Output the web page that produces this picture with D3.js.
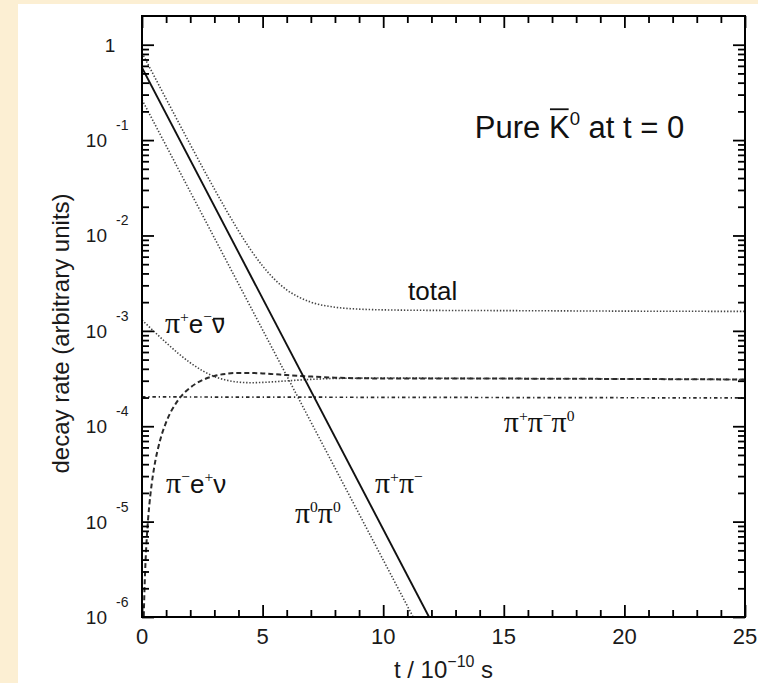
<!DOCTYPE html>
<html>
<head>
<meta charset="utf-8">
<script src="https://cdn.jsdelivr.net/npm/d3@7"></script>
<style>
  html, body { margin: 0; padding: 0; background: #fcefd3; }
  svg { display: block; }
</style>
</head>
<body>
<svg id="chart" width="758" height="683"></svg>
<script>
'use strict';

// ── data (t in 1e-10 s, decay rate in arbitrary units) ─────────────────────
const xTicks = [0, 5, 10, 15, 20, 25];
const yDecades = [-6, -5, -4, -3, -2, -1, 0];

const totalPts = [[0, 0.822], [1, 0.2707], [2, 0.0901], [3, 0.0307], [4, 0.0112],
  [4.5, 0.00711], [5, 0.00479], [5.5, 0.00346], [6, 0.00269], [6.5, 0.00226],
  [7, 0.00200], [8, 0.00177], [9, 0.00169], [10, 0.00166], [12, 0.00164],
  [15, 0.00163], [20, 0.00161], [25, 0.00160]];
const pipiPts = [[0, 0.574], [11.9, 1e-6]];
const pi0pi0Pts = [[0, 0.265], [11.24, 1e-6]];
const semiPlusPts = [[0, 1.30e-3], [0.5, 9.85e-4], [1, 7.52e-4], [1.5, 5.82e-4],
  [2, 4.63e-4], [2.5, 3.83e-4], [3, 3.32e-4], [3.5, 3.04e-4], [4, 2.90e-4],
  [4.5, 2.86e-4], [5, 2.88e-4], [5.5, 2.93e-4], [6, 2.99e-4], [7, 3.10e-4],
  [8, 3.17e-4], [10, 3.20e-4], [15, 3.16e-4], [20, 3.13e-4], [25, 3.09e-4]];
const semiMinusPts = [[0.05, 4.7e-7], [0.075, 1.04e-6], [0.1, 1.82e-6], [0.15, 3.98e-6],
  [0.2, 6.87e-6], [0.3, 1.46e-5], [0.4, 2.46e-5], [0.5, 3.64e-5], [0.75, 7.11e-5],
  [1, 1.10e-4], [1.5, 1.88e-4], [2, 2.54e-4], [2.5, 3.04e-4], [3, 3.37e-4],
  [3.5, 3.55e-4], [4, 3.62e-4], [4.5, 3.62e-4], [5, 3.58e-4], [5.5, 3.51e-4],
  [6, 3.44e-4], [7, 3.32e-4], [8, 3.23e-4], [10, 3.17e-4], [15, 3.16e-4],
  [20, 3.13e-4], [25, 3.09e-4]];
const threePiPts = [[0, 2.03e-4], [25, 1.98e-4]];

// ── layout ──────────────────────────────────────────────────────────────────
const W = 758, H = 683;
const plot = { l: 142, r: 745, t: 16, b: 617 };
const SANS = '"Liberation Sans", Arial, sans-serif';
const SERIF = '"Liberation Serif", "Times New Roman", serif';

const x = d3.scaleLinear().domain([0, 25]).range([plot.l, plot.r]);
const y = d3.scaleLog().domain([1e-6, 2]).range([plot.b, plot.t]);

const svg = d3.select('#chart');

// white panel on beige page
svg.append('rect')
  .attr('x', 18).attr('y', 4)
  .attr('width', W - 18).attr('height', H - 4)
  .attr('fill', '#fff');

svg.append('clipPath').attr('id', 'plotclip')
  .append('rect')
  .attr('x', plot.l).attr('y', plot.t)
  .attr('width', plot.r - plot.l).attr('height', plot.b - plot.t);

// ── curves ──────────────────────────────────────────────────────────────────
const line = d3.line()
  .x(d => x(d[0]))
  .y(d => y(d[1]))
  .curve(d3.curveMonotoneX);

const curves = [
  { pts: totalPts,     color: '#444', width: 1.6, dash: '1.4,1.8' },
  { pts: pi0pi0Pts,    color: '#444', width: 1.6, dash: '1.4,1.8' },
  { pts: semiPlusPts,  color: '#444', width: 1.6, dash: '1.4,1.8' },
  { pts: semiMinusPts, color: '#2a2a2a', width: 2, dash: '5,3' },
  { pts: threePiPts,   color: '#2a2a2a', width: 1.7, dash: '3.5,2.8,1.3,2.8' },
  { pts: pipiPts,      color: '#111', width: 1.9, dash: null },
];

const curveG = svg.append('g').attr('clip-path', 'url(#plotclip)');
curves.forEach(c => {
  curveG.append('path')
    .attr('d', line(c.pts))
    .attr('fill', 'none')
    .attr('stroke', c.color)
    .attr('stroke-width', c.width)
    .attr('stroke-dasharray', c.dash);
});

// ── axes (ticks inward on all four sides) ───────────────────────────────────
const xMinor = d3.range(0, 26).filter(v => v % 5 !== 0);
const yMajor = yDecades.map(k => Math.pow(10, k));
const yMinor = [];
yDecades.forEach(k => {
  for (let j = 2; j <= 9; j++) {
    const v = j * Math.pow(10, k);
    if (v < 2) yMinor.push(v);
  }
});

function tickSet(axis, values, len, tx, ty) {
  svg.append('g')
    .attr('transform', `translate(${tx},${ty})`)
    .call(axis.tickValues(values).tickSize(-len).tickFormat(''))
    .call(g => g.select('.domain').remove())
    .call(g => g.selectAll('line').attr('stroke', '#000').attr('stroke-width', 1.8));
}

tickSet(d3.axisBottom(x), xTicks, 12, 0, plot.b);
tickSet(d3.axisBottom(x), xMinor, 7, 0, plot.b);
tickSet(d3.axisTop(x), xTicks, 12, 0, plot.t);
tickSet(d3.axisTop(x), xMinor, 7, 0, plot.t);
tickSet(d3.axisLeft(y), yMajor, 12, plot.l, 0);
tickSet(d3.axisLeft(y), yMinor, 7, plot.l, 0);
tickSet(d3.axisRight(y), yMajor, 12, plot.r, 0);
tickSet(d3.axisRight(y), yMinor, 7, plot.r, 0);

svg.append('rect')
  .attr('x', plot.l).attr('y', plot.t)
  .attr('width', plot.r - plot.l).attr('height', plot.b - plot.t)
  .attr('fill', 'none')
  .attr('stroke', '#000')
  .attr('stroke-width', 2);

// ── tick labels ─────────────────────────────────────────────────────────────
const labelG = svg.append('g').attr('font-family', SANS).attr('fill', '#1a1a1a');

xTicks.forEach(t => {
  labelG.append('text')
    .attr('x', x(t)).attr('y', 644)
    .attr('text-anchor', 'middle')
    .attr('font-size', 22)
    .text(t);
});

yDecades.forEach(k => {
  const yy = y(Math.pow(10, k));
  if (k === 0) {
    labelG.append('text')
      .attr('x', 110).attr('y', yy + 7)
      .attr('text-anchor', 'middle')
      .attr('font-size', 19)
      .text('1');
  } else {
    labelG.append('text')
      .attr('x', 107).attr('y', yy + 7)
      .attr('text-anchor', 'end')
      .attr('font-size', 19)
      .text('10');
    labelG.append('text')
      .attr('x', 116).attr('y', yy - 10)
      .attr('font-size', 14)
      .text(String(k));
  }
});

// ── axis titles ─────────────────────────────────────────────────────────────
labelG.append('text')
  .attr('transform', `translate(69,${(plot.t + plot.b) / 2 + 17}) rotate(-90)`)
  .attr('text-anchor', 'middle')
  .attr('font-size', 24)
  .text('decay rate (arbitrary units)');

const xTitle = labelG.append('text')
  .attr('x', (plot.l + plot.r) / 2).attr('y', 678)
  .attr('text-anchor', 'middle')
  .attr('font-size', 24);
xTitle.append('tspan').text('t / 10');
xTitle.append('tspan').attr('dy', -11).attr('font-size', 16).text('\u221210');
xTitle.append('tspan').attr('dy', 11).text(' s');

// ── curve annotations ───────────────────────────────────────────────────────
// parts: s = text, f = font family, k = size factor, sup = superscript,
// bar = overline height (em)
function richText(tx, ty, parts, size) {
  const t = svg.append('text')
    .attr('x', tx).attr('y', ty)
    .attr('font-family', SANS)
    .attr('font-size', size)
    .attr('fill', '#111');
  let raised = false;
  const shift = size * 0.42;
  parts.forEach(p => {
    const ts = t.append('tspan').text(p.s);
    if (p.f) ts.attr('font-family', p.f);
    if (p.k) ts.attr('font-size', size * p.k);
    if (p.sup) {
      ts.attr('font-size', size * 0.6);
      if (!raised) { ts.attr('dy', -shift); raised = true; }
    } else if (raised) {
      ts.attr('dy', shift);
      raised = false;
    }
  });
  // overlines
  let idx = 0;
  parts.forEach(p => {
    if (p.bar) {
      const a = t.node().getStartPositionOfChar(idx);
      const b = t.node().getEndPositionOfChar(idx + p.s.length - 1);
      svg.append('line')
        .attr('x1', a.x + 1).attr('x2', b.x - 1)
        .attr('y1', ty - size * p.bar).attr('y2', ty - size * p.bar)
        .attr('stroke', '#111').attr('stroke-width', 1.8);
    }
    idx += p.s.length;
  });
  return t;
}

const PI = { s: '\u03c0', f: SERIF, k: 1.15 };
const sup = s => ({ s, sup: true, f: SERIF });

const annotations = [
  { t: 13.8, v: 0.105, size: 31,
    parts: [{ s: 'Pure ' }, { s: 'K', bar: 0.93 }, { s: '0', sup: true }, { s: ' at t = 0' }] },
  { t: 11.03, v: 2.1e-3, size: 26, parts: [{ s: 'total' }] },
  { t: 0.95, v: 9.5e-4, size: 26,
    parts: [PI, sup('+'), { s: 'e' }, sup('\u2212'), { s: '\u03bd', bar: 0.55 }] },
  { t: 1.0, v: 2.0e-5, size: 26,
    parts: [PI, sup('\u2212'), { s: 'e' }, sup('+'), { s: '\u03bd' }] },
  { t: 6.34, v: 9.66e-6, size: 26, parts: [PI, sup('0'), PI, sup('0')] },
  { t: 9.66, v: 2.0e-5, size: 26, parts: [PI, sup('+'), PI, sup('\u2212')] },
  { t: 15.0, v: 8.7e-5, size: 26, parts: [PI, sup('+'), PI, sup('\u2212'), PI, sup('0')] },
];

annotations.forEach(a => richText(x(a.t), y(a.v), a.parts, a.size));
</script>
</body>
</html>
